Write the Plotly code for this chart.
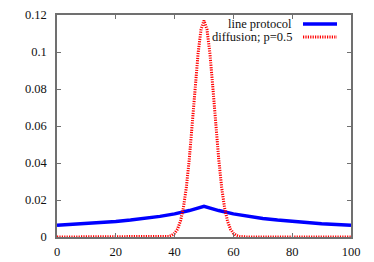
import plotly.graph_objects as go

# line protocol
line_x = [0, 5, 10, 15, 20, 25, 30, 35, 40, 45, 50, 55, 60, 65, 70, 75, 80, 85, 90, 95, 100]
line_y = [0.0063, 0.00672, 0.00719, 0.00774, 0.00838, 0.00914, 0.01004, 0.01114, 0.01249, 0.01428, 0.0166,
          0.01428, 0.01249, 0.01114, 0.01004, 0.00914, 0.00838, 0.00774, 0.00719, 0.00672, 0.0063]

# diffusion; p=0.5
diff_x = [0, 35, 36, 37, 38, 39, 40, 41, 42, 43, 44, 45, 46, 47, 48, 49, 50,
          51, 52, 53, 54, 55, 56, 57, 58, 59, 60, 61, 62, 63, 64, 65, 100]
diff_y = [0, 0, 0.00004, 0.00012, 0.00033, 0.00084, 0.0020, 0.0043, 0.0086, 0.0158, 0.0269, 0.0422,
          0.0609, 0.0810, 0.0994, 0.1123, 0.117, 0.1123, 0.0994, 0.0810, 0.0609, 0.0422, 0.0269,
          0.0158, 0.0086, 0.0043, 0.0020, 0.00084, 0.00033, 0.00012, 0.00004, 0, 0]

x_ticks = [0, 20, 40, 60, 80, 100]
y_ticks = [0, 0.02, 0.04, 0.06, 0.08, 0.1, 0.12]
y_tick_text = ["0", "0.02", "0.04", "0.06", "0.08", "0.1", "0.12"]
legend_names = ["line protocol", "diffusion; p=0.5"]

FONT = "Liberation Serif"
AX = "#707070"
RED_DASH = "1.2px,1.2px"

fig = go.Figure()
fig.add_trace(go.Scatter(x=line_x, y=line_y, mode="lines", name=legend_names[0],
                         line=dict(color="#0000ff", width=3.5), cliponaxis=False))
fig.add_trace(go.Scatter(x=diff_x, y=diff_y, mode="lines", name=legend_names[1],
                         line=dict(color="#ff0000", width=3, dash=RED_DASH), cliponaxis=False))

axis_common = dict(showgrid=False, zeroline=False, showline=True, linecolor=AX, linewidth=1.5,
                   mirror="ticks", ticks="inside", ticklen=4, tickcolor=AX, tickwidth=1,
                   automargin=False,
                   tickfont=dict(family=FONT, size=12.5, color="#111"))
fig.update_xaxes(range=[0, 100], tickvals=x_ticks, ticklabelstandoff=2, **axis_common)
fig.update_yaxes(range=[0, 0.12], tickvals=y_ticks, ticktext=y_tick_text,
                 ticklabelstandoff=6, **axis_common)

# gnuplot-style key: text right-aligned, sample to the right
rows = [(24, "#0000ff", "solid", 3.5), (37, "#ff0000", RED_DASH, 3)]
for name, (ypix, col, dash, w) in zip(legend_names, rows):
    yp = 1 - (ypix - 15) / 222
    fig.add_annotation(xref="paper", yref="paper", x=(294 - 57) / 294, y=yp, text=name,
                       showarrow=False, xanchor="right", yanchor="middle",
                       font=dict(family=FONT, size=12.5, color="#111"))
    fig.add_shape(type="line", xref="paper", yref="paper",
                  x0=(303 - 57) / 294, x1=(337 - 57) / 294, y0=yp, y1=yp,
                  line=dict(color=col, width=w, dash=dash))

fig.update_layout(width=374, height=262, showlegend=False,
                  margin=dict(l=57, r=23, t=15, b=25, autoexpand=False),
                  plot_bgcolor="white", paper_bgcolor="white",
                  font=dict(family=FONT))
fig.write_html("out.html", config={"displayModeBar": False},
               post_script="document.body.style.margin='0';document.body.style.overflow='hidden';")
